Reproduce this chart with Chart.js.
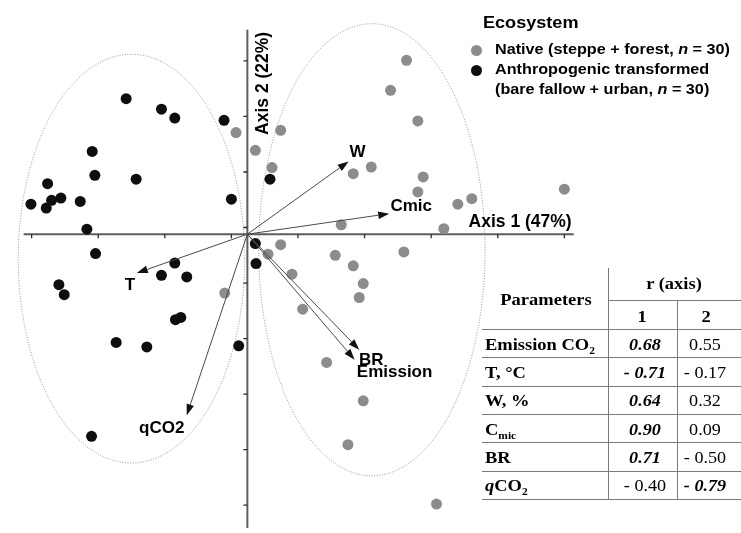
<!DOCTYPE html>
<html><head><meta charset="utf-8">
<script src="https://cdn.jsdelivr.net/npm/chart.js@4.4.1/dist/chart.umd.min.js"></script>
<style>
html,body{margin:0;padding:0;background:#fff;}
#wrap{position:relative;width:741px;height:533px;overflow:hidden;background:#fff;}
#c{position:absolute;left:0;top:0;}
.t{position:absolute;white-space:nowrap;line-height:1;color:#000;}
.t sub{font-size:0.62em;vertical-align:-0.38em;line-height:0;}
.hl{position:absolute;height:0;border-top:1px solid #7a7a7a;}
.vl{position:absolute;width:0;border-left:1px solid #7a7a7a;}
.dot{position:absolute;width:11px;height:11px;border-radius:50%;}
</style></head><body>
<div id="wrap"><canvas id="c" width="741" height="533"></canvas></div>
<script>
// ---------- data ----------
const nativeX = [-0.17, 0.12, 0.50, 0.37, 1.41, 0.50, 0.31, 1.32, 1.59, 2.39, 2.15, 2.56, 1.59, 1.86, 2.64, 2.56, 3.16, 3.37, 4.76, 2.95, 2.35, -0.34, 0.67, 1.74, 1.68, 0.83, 1.19, 1.74, 1.51, 2.84];
const nativeY = [1.83, 1.51, 1.87, 1.20, 0.17, -0.19, -0.36, -0.38, -0.57, 3.13, 2.59, 2.04, 1.09, 1.21, 1.03, 0.76, 0.54, 0.64, 0.81, 0.10, -0.32, -1.06, -0.72, -0.89, -1.14, -1.35, -2.31, -3.00, -3.79, -4.86];
const anthropX = [-1.82, -1.29, -1.09, -0.35, -2.33, -2.29, -1.67, -3.00, -2.94, -2.80, -3.25, -3.02, -2.51, -0.24, -2.41, -2.28, 0.34, -1.09, 0.12, 0.13, -1.29, -0.91, -2.83, -2.75, -1.08, -1.00, -1.97, -1.51, -0.13, -2.34];
const anthropY = [2.44, 2.25, 2.09, 2.05, 1.49, 1.06, 0.99, 0.91, 0.61, 0.65, 0.54, 0.47, 0.59, 0.63, 0.09, -0.35, 0.99, -0.52, -0.17, -0.53, -0.74, -0.77, -0.91, -1.09, -1.54, -1.50, -1.95, -2.03, -2.01, -3.64];

const vectorNames = ['W', 'Cmic', 'T', 'qCO2', 'BR', 'Emission'];
const vectorX = [1.52, 2.13, -1.66, -0.91, 1.68, 1.61];
const vectorY = [1.31, 0.37, -0.70, -3.26, -2.08, -2.26];

const xTicks = [-3.24, -2.24, -1.24, -0.24, 0.76, 1.76, 2.76, 3.76, 4.76];
const yTicks = [3.12, 2.12, 1.12, 0.12, -0.88, -1.88, -2.88, -3.88, -4.88];
const axisXRange = [-3.36, 4.90];
const axisYRange = [-5.29, 3.68];
const axisTitles = ['Axis 1 (47%)', 'Axis 2 (22%)'];

const ellipseCX = [-1.74, 1.87];
const ellipseCY = [-0.44, -0.28];
const ellipseRX = [1.70, 1.70];
const ellipseRY = [3.68, 4.07];

const legendTitle = 'Ecosystem';
const groupLabels = ['Native (steppe + forest, <i>n</i> = 30)', 'Anthropogenic transformed', '(bare fallow + urban, <i>n</i> = 30)'];

const tableHeader = ['Parameters', 'r (axis)', '1', '2'];
const tableParams = ['Emission CO<sub>2</sub>', 'T, °C', 'W, %', 'C<sub>mic</sub>', 'BR', '<b><i>q</i></b>CO<sub>2</sub>'];
const rAxis1 = [0.68, -0.71, 0.64, 0.90, 0.71, -0.40];
const rAxis2 = [0.55, -0.17, 0.32, 0.09, -0.50, -0.79];
const sigAxis1 = [true, true, true, true, true, false];
const sigAxis2 = [false, false, false, false, false, true];

// ---------- styles ----------
const COL_NATIVE = '#8c8c8c';
const COL_ANTH = '#0e0e0e';
const labelOffsets = { // px offsets from vector tip to label (center x, baseline y)
  'W': [9, -4], 'Cmic': [22, -3], 'T': [-7, 17], 'qCO2': [-25, 18], 'BR': [12, 15], 'Emission': [40, 17]
};
const LABEL_FONT = 'bold 17px "Liberation Sans", Arial, sans-serif';

const toPts = (xs, ys) => xs.map((x, i) => ({x: x, y: ys[i]}));

const ordPlugin = {
  id: 'ord',
  beforeDatasetsDraw(chart) {
    const ctx = chart.ctx, xs = chart.scales.x, ys = chart.scales.y;
    const x0 = xs.getPixelForValue(0), y0 = ys.getPixelForValue(0);
    ctx.save();
    // ellipses
    ctx.strokeStyle = '#8f8f8f'; ctx.lineWidth = 1; ctx.setLineDash([1, 1.6]);
    for (let i = 0; i < ellipseCX.length; i++) {
      const cx = xs.getPixelForValue(ellipseCX[i]), cy = ys.getPixelForValue(ellipseCY[i]);
      const rx = Math.abs(xs.getPixelForValue(ellipseCX[i] + ellipseRX[i]) - cx);
      const ry = Math.abs(ys.getPixelForValue(ellipseCY[i] + ellipseRY[i]) - cy);
      ctx.beginPath(); ctx.ellipse(cx, cy, rx, ry, 0, 0, Math.PI * 2); ctx.stroke();
    }
    ctx.setLineDash([]);
    // axes
    ctx.strokeStyle = '#5e5e5e'; ctx.lineWidth = 2;
    ctx.beginPath();
    ctx.moveTo(xs.getPixelForValue(axisXRange[0]), y0); ctx.lineTo(xs.getPixelForValue(axisXRange[1]), y0);
    ctx.moveTo(x0, ys.getPixelForValue(axisYRange[0])); ctx.lineTo(x0, ys.getPixelForValue(axisYRange[1]));
    ctx.stroke();
    ctx.strokeStyle = '#2a2a2a'; ctx.lineWidth = 1.3;
    ctx.beginPath();
    xTicks.forEach(v => { const p = xs.getPixelForValue(v); ctx.moveTo(p, y0); ctx.lineTo(p, y0 + 4); });
    yTicks.forEach(v => { const p = ys.getPixelForValue(v); ctx.moveTo(x0, p); ctx.lineTo(x0 - 4, p); });
    ctx.stroke();
    ctx.restore();
  },
  afterDatasetsDraw(chart) {
    const ctx = chart.ctx, xs = chart.scales.x, ys = chart.scales.y;
    const x0 = xs.getPixelForValue(0), y0 = ys.getPixelForValue(0);
    ctx.save();
    // vectors
    for (let i = 0; i < vectorNames.length; i++) {
      const x1 = xs.getPixelForValue(vectorX[i]), y1 = ys.getPixelForValue(vectorY[i]);
      const ang = Math.atan2(y1 - y0, x1 - x0);
      const L = 11, W = 3.8;
      const bx = x1 - L * Math.cos(ang), by = y1 - L * Math.sin(ang);
      ctx.strokeStyle = '#4a4a4a'; ctx.lineWidth = 1;
      ctx.beginPath(); ctx.moveTo(x0, y0); ctx.lineTo(bx, by); ctx.stroke();
      ctx.fillStyle = '#111';
      ctx.beginPath();
      ctx.moveTo(x1, y1);
      ctx.lineTo(bx + W * Math.sin(ang), by - W * Math.cos(ang));
      ctx.lineTo(bx - W * Math.sin(ang), by + W * Math.cos(ang));
      ctx.closePath(); ctx.fill();
      const off = labelOffsets[vectorNames[i]];
      ctx.font = LABEL_FONT; ctx.textAlign = 'center'; ctx.textBaseline = 'alphabetic';
      ctx.fillStyle = '#000';
      ctx.fillText(vectorNames[i], x1 + off[0], y1 + off[1]);
    }
    // axis titles
    ctx.font = 'bold 17.5px "Liberation Sans", Arial, sans-serif';
    ctx.fillStyle = '#000';
    ctx.textAlign = 'right'; ctx.textBaseline = 'alphabetic';
    ctx.fillText(axisTitles[0], xs.getPixelForValue(axisXRange[1]) - 2, y0 - 7);
    ctx.translate(x0 + 20.5, ys.getPixelForValue(axisYRange[1]) + 2);
    ctx.rotate(-Math.PI / 2);
    ctx.fillText(axisTitles[1], 0, 0);
    ctx.restore();
  }
};

new Chart(document.getElementById('c'), {
  type: 'scatter',
  data: {
    datasets: [
      {label: 'Native', data: toPts(nativeX, nativeY), backgroundColor: COL_NATIVE, borderWidth: 0, pointRadius: 5.5, pointHoverRadius: 5.5},
      {label: 'Anthropogenic', data: toPts(anthropX, anthropY), backgroundColor: COL_ANTH, borderWidth: 0, pointRadius: 5.5, pointHoverRadius: 5.5}
    ]
  },
  options: {
    responsive: false, animation: false, events: [],
    layout: {padding: 0},
    scales: {
      x: {type: 'linear', min: -3.632, max: 7.33, bounds: 'data', display: false},
      y: {type: 'linear', min: -5.282, max: 4.118, bounds: 'data', display: false}
    },
    plugins: {legend: {display: false}, tooltip: {enabled: false}}
  },
  plugins: [ordPlugin]
});

// ---------- HTML legend & table ----------
const wrap = document.getElementById('wrap');
function addText(html, x, baseline, o) {
  const d = document.createElement('div');
  d.className = 't'; d.innerHTML = html;
  d.style.fontFamily = o.family; d.style.fontSize = o.size + 'px';
  d.style.fontWeight = o.weight || 'normal'; d.style.fontStyle = o.style || 'normal';
  d.style.top = (baseline - o.k * o.size) + 'px';
  d.style.left = x + 'px';
  const sx = o.sx || 1;
  if (o.align === 'center') { d.style.transform = 'translateX(-50%) scaleX(' + sx + ')'; d.style.transformOrigin = '50% 50%'; }
  else { d.style.transform = 'scaleX(' + sx + ')'; d.style.transformOrigin = '0 50%'; }
  wrap.appendChild(d);
}
function hline(x1, x2, y) { const d = document.createElement('div'); d.className = 'hl'; d.style.left = x1 + 'px'; d.style.width = (x2 - x1) + 'px'; d.style.top = y + 'px'; wrap.appendChild(d); }
function vline(x, y1, y2) { const d = document.createElement('div'); d.className = 'vl'; d.style.left = x + 'px'; d.style.top = y1 + 'px'; d.style.height = (y2 - y1) + 'px'; wrap.appendChild(d); }

const SANS = '"Liberation Sans", Arial, sans-serif', SERIF = '"Liberation Serif", "Times New Roman", serif';
// legend
addText(legendTitle, 482.5, 29, {family: SANS, size: 16, weight: 'bold', k: 0.8465, sx: 1.13});
[[476, 50, COL_NATIVE], [476, 70, COL_ANTH]].forEach(a => {
  const d = document.createElement('div'); d.className = 'dot';
  d.style.left = (a[0] - 5.5) + 'px'; d.style.top = (a[1] - 5.5) + 'px'; d.style.background = a[2]; wrap.appendChild(d);
});
[53.5, 73.5, 93.5].forEach((b, i) => addText(groupLabels[i], 495, b, {family: SANS, size: 15, weight: 'bold', k: 0.8465, sx: 1.08}));

// table
const TX0 = 482, TX1 = 608, TX2 = 677, TX3 = 741, TY0 = 268, TYH = 300, TYB = 329, RH = 28.33;
vline(TX1, TY0, TYB + RH * 6);
vline(TX2, TYH, TYB + RH * 6);
hline(TX1, TX3, TYH);
hline(TX0, TX3, TYB);
for (let i = 1; i <= 6; i++) hline(TX0, TX3, Math.round(TYB + RH * i));
const TS = 16.5, TK = 0.8375;
addText(tableHeader[0], 545.5, 306, {family: SERIF, size: TS, weight: 'bold', k: TK, sx: 1.12, align: 'center'});
addText(tableHeader[1], 674, 289.5, {family: SERIF, size: TS, weight: 'bold', k: TK, sx: 1.12, align: 'center'});
addText(tableHeader[2], 642, 323, {family: SERIF, size: TS, weight: 'bold', k: TK, sx: 1.12, align: 'center'});
addText(tableHeader[3], 706, 323, {family: SERIF, size: TS, weight: 'bold', k: TK, sx: 1.12, align: 'center'});
const fmt = v => (v < 0 ? '- ' : '') + Math.abs(v).toFixed(2);
for (let i = 0; i < tableParams.length; i++) {
  const base = TYB + RH * i + 21.5;
  addText(tableParams[i], 484.5, base, {family: SERIF, size: TS, weight: 'bold', k: TK, sx: 1.12});
  addText(fmt(rAxis1[i]), 645, base, {family: SERIF, size: TS, weight: sigAxis1[i] ? 'bold' : 'normal', style: sigAxis1[i] ? 'italic' : 'normal', k: TK, sx: 1.1, align: 'center'});
  addText(fmt(rAxis2[i]), 705, base, {family: SERIF, size: TS, weight: sigAxis2[i] ? 'bold' : 'normal', style: sigAxis2[i] ? 'italic' : 'normal', k: TK, sx: 1.1, align: 'center'});
}
</script>
</body></html>
